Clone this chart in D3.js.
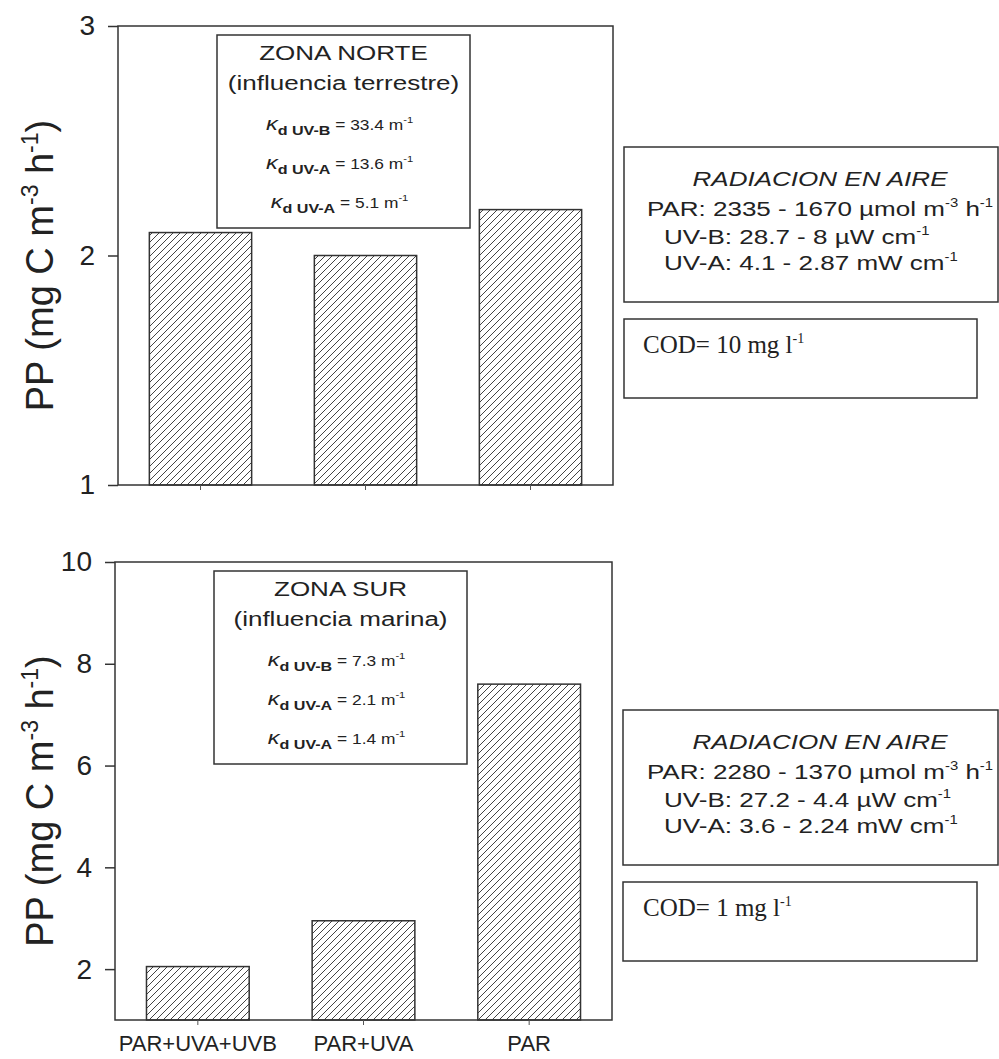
<!DOCTYPE html>
<html>
<head>
<meta charset="utf-8">
<script src="https://cdn.jsdelivr.net/npm/d3@7"></script>
<style>
body { margin: 0; background: #fff; }
text { font-family: "Liberation Sans", Arial, sans-serif; fill: #222; }
</style>
</head>
<body>
<div id="chart-area"></div>
<script>
// bar categories and values
var categories = ["PAR+UVA+UVB", "PAR+UVA", "PAR"];
var norteValues = [2.1, 2.0, 2.2];
var surValues = [2.05, 2.95, 7.6];
var norteTicks = [1, 2, 3];
var surTicks = [2, 4, 6, 8, 10];

var kdBands = ["UV-B", "UV-A", "UV-A"];
var norteKd = ["33.4", "13.6", "5.1"];
var surKd = ["7.3", "2.1", "1.4"];
var norteAire = ["2335 - 1670", "28.7 - 8", "4.1 - 2.87"];
var surAire = ["2280 - 1370", "27.2 - 4.4", "3.6 - 2.24"];

var svg = d3.select("#chart-area").append("svg")
    .attr("width", 999)
    .attr("height", 1059);

svg.append("rect")
    .attr("width", 999)
    .attr("height", 1059)
    .attr("fill", "#fff");

// diagonal hatch for the bars
var pat = svg.append("defs").append("pattern")
    .attr("id", "hatch")
    .attr("patternUnits", "userSpaceOnUse")
    .attr("width", 7)
    .attr("height", 7);
pat.append("path")
    .attr("d", "M-1,1 L1,-1 M0,7 L7,0 M6,8 L8,6")
    .attr("stroke", "#444")
    .attr("stroke-width", 1);

var SX = 1.24; // text in the boxes is a wide face

function drawPanel(p) {
    var g = svg.append("g");

    var x = d3.scaleBand()
        .domain(categories)
        .range([p.left, p.right])
        .paddingInner(0.38)
        .paddingOuter(0.19);

    var y = d3.scaleLinear()
        .domain(p.domain)
        .range([p.bottom, p.top]);

    g.selectAll("rect.bar").data(p.values).enter().append("rect")
        .attr("class", "bar")
        .attr("x", (d, i) => x(categories[i]))
        .attr("y", (d) => y(d))
        .attr("width", x.bandwidth())
        .attr("height", (d) => y(p.domain[0]) - y(d))
        .attr("fill", "url(#hatch)")
        .attr("stroke", "#333")
        .attr("stroke-width", 1.5);

    g.append("rect")
        .attr("x", p.left)
        .attr("y", p.top)
        .attr("width", p.right - p.left)
        .attr("height", p.bottom - p.top)
        .attr("fill", "none")
        .attr("stroke", "#333")
        .attr("stroke-width", 1.5);

    var yAxis = g.append("g")
        .attr("transform", "translate(" + p.left + ",0)")
        .call(d3.axisLeft(y).tickValues(p.ticks).tickSize(10).tickPadding(13)
            .tickFormat(d3.format("d")));
    yAxis.select(".domain").remove();
    yAxis.selectAll("line").attr("stroke", "#333").attr("stroke-width", 1.5);
    yAxis.selectAll("text")
        .style("font-size", "28px")
        .attr("fill", "#222");

    var xAxis = g.append("g")
        .attr("transform", "translate(0," + p.bottom + ")")
        .call(d3.axisBottom(x).tickSize(5).tickPadding(10)
            .tickFormat(p.showLabels ? null : ""));
    xAxis.select(".domain").remove();
    xAxis.selectAll("line").attr("stroke", "#555");
    xAxis.selectAll("text")
        .style("font-size", "22px")
        .attr("fill", "#333");

    // y label
    var cy = (p.top + p.bottom) / 2 + 10;
    var lab = g.append("text")
        .attr("transform", "translate(53," + cy + ") rotate(-90)")
        .attr("text-anchor", "middle")
        .style("font-size", "38px");
    lab.append("tspan").text("PP (mg C m");
    lab.append("tspan").style("font-size", "23px").attr("dy", -15).text("-3");
    lab.append("tspan").attr("dy", 15).text(" h");
    lab.append("tspan").style("font-size", "23px").attr("dy", -15).text("-1");
    lab.append("tspan").attr("dy", 15).text(")");

    // zone box inside the plot
    var bx = p.left + 99, by = p.top + 9, bw = 253, bh = 193;
    g.append("rect")
        .attr("x", bx).attr("y", by)
        .attr("width", bw).attr("height", bh)
        .attr("fill", "#fff")
        .attr("stroke", "#333")
        .attr("stroke-width", 1.5);
    var cx = bx + bw / 2;
    g.append("text")
        .attr("transform", "translate(" + cx + "," + (by + 25) + ") scale(" + SX + ",1)")
        .attr("text-anchor", "middle")
        .style("font-size", "21px")
        .text(p.zone);
    g.append("text")
        .attr("transform", "translate(" + cx + "," + (by + 55) + ") scale(" + SX + ",1)")
        .attr("text-anchor", "middle")
        .style("font-size", "21px")
        .text(p.influence);
    p.kd.forEach((v, i) => {
        var t = g.append("text")
            .attr("transform", "translate(" + (cx - 4) + "," + (by + 95 + i * 39) + ") scale(" + SX + ",1)")
            .attr("text-anchor", "middle")
            .style("font-size", "14px");
        t.append("tspan").style("font-size", "19px").style("font-style", "italic").text("\u03ba");
        t.append("tspan").style("font-size", "13px").style("font-weight", "bold").attr("dy", 5).text("d " + kdBands[i]);
        t.append("tspan").attr("dy", -5).text(" = " + v + " m");
        t.append("tspan").style("font-size", "9px").attr("dy", -7).text("-1");
    });

    // radiation box on the right
    var rx = p.right + 11, ry = p.aireTop;
    g.append("rect")
        .attr("x", rx).attr("y", ry)
        .attr("width", 998 - rx).attr("height", 155)
        .attr("fill", "none")
        .attr("stroke", "#333")
        .attr("stroke-width", 1.5);
    g.append("text")
        .attr("transform", "translate(820," + (ry + 39) + ") scale(" + SX + ",1)")
        .attr("text-anchor", "middle")
        .style("font-size", "21px")
        .style("font-style", "italic")
        .text("RADIACION EN AIRE");
    var par = g.append("text")
        .attr("transform", "translate(820," + (ry + 69) + ") scale(" + SX + ",1)")
        .attr("text-anchor", "middle")
        .style("font-size", "21px");
    par.append("tspan").text("PAR: " + p.aire[0] + " \u00b5mol m");
    par.append("tspan").style("font-size", "12px").attr("dy", -9).text("-3");
    par.append("tspan").attr("dy", 9).text(" h");
    par.append("tspan").style("font-size", "12px").attr("dy", -9).text("-1");

    var uvb = g.append("text")
        .attr("transform", "translate(664," + (ry + 97) + ") scale(" + SX + ",1)")
        .style("font-size", "21px");
    uvb.append("tspan").text("UV-B: " + p.aire[1] + " \u00b5W cm");
    uvb.append("tspan").style("font-size", "12px").attr("dy", -9).text("-1");

    var uva = g.append("text")
        .attr("transform", "translate(664," + (ry + 123) + ") scale(" + SX + ",1)")
        .style("font-size", "21px");
    uva.append("tspan").text("UV-A: " + p.aire[2] + " mW cm");
    uva.append("tspan").style("font-size", "12px").attr("dy", -9).text("-1");

    // COD box
    var dy = ry + 172;
    g.append("rect")
        .attr("x", rx).attr("y", dy)
        .attr("width", 977 - rx).attr("height", 79)
        .attr("fill", "none")
        .attr("stroke", "#333")
        .attr("stroke-width", 1.5);
    var cod = g.append("text")
        .attr("x", 643).attr("y", dy + 34)
        .style("font-family", "'Liberation Serif', 'Times New Roman', serif")
        .style("font-size", "25px");
    cod.append("tspan").text("COD= " + p.cod + " mg l");
    cod.append("tspan").style("font-size", "14px").attr("dy", -10).text("-1");
}

drawPanel({
    left: 118, right: 613, top: 26, bottom: 485,
    domain: [1, 3], ticks: norteTicks, values: norteValues,
    showLabels: false,
    zone: "ZONA NORTE", influence: "(influencia terrestre)", kd: norteKd,
    aireTop: 147, aire: norteAire, cod: "10"
});

drawPanel({
    left: 115, right: 612, top: 562, bottom: 1020,
    domain: [1, 10], ticks: surTicks, values: surValues,
    showLabels: true,
    zone: "ZONA SUR", influence: "(influencia marina)", kd: surKd,
    aireTop: 710, aire: surAire, cod: "1"
});
</script>
</body>
</html>
